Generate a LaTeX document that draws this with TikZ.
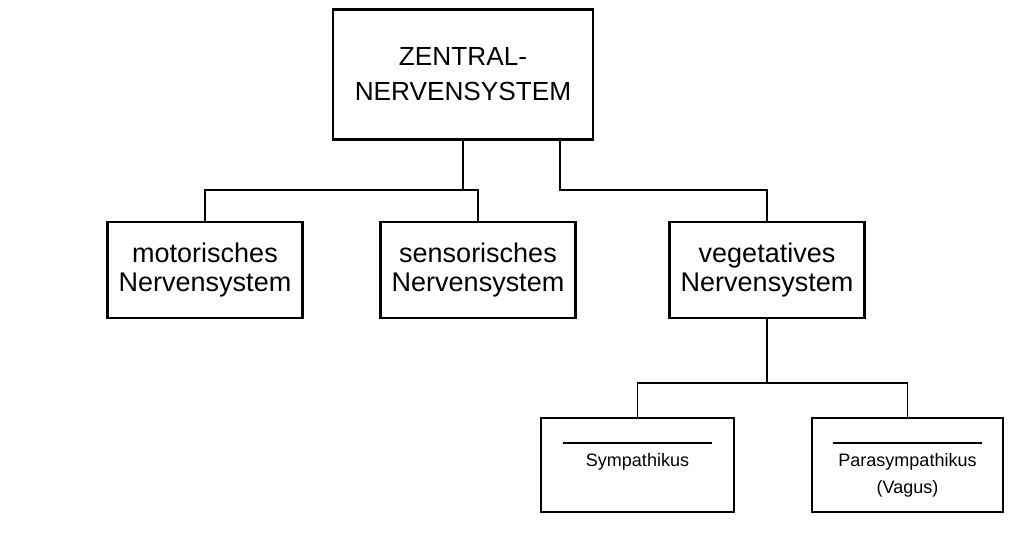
\documentclass[tikz,border=0pt]{standalone}
\usepackage{fontspec}
\setmainfont{Liberation Sans}
\begin{document}
\begin{tikzpicture}[x=.5pt,y=-.5pt,
	kasten/.style={draw,line width=1.1pt,inner sep=0pt,align=center},
	zbox/.style={kasten,minimum width=130pt,minimum height=65pt,font=\fontsize{13.1}{17.5}\selectfont},
	mbox/.style={kasten,minimum width=97.5pt,minimum height=48pt,font=\fontsize{13.5}{14.2}\selectfont},
	ubox/.style={kasten,minimum width=96.5pt,minimum height=47pt},
	utext/.style={inner sep=0pt,align=center,font=\fontsize{9}{13.3}\selectfont},
	ast/.style={line width=.9pt}]
	\useasboundingbox[fill=white] (0,0) rectangle (1024,532);
	\node[zbox] (zns) at (463,74.4) {ZENTRAL-\\NERVENSYSTEM};
	\foreach \n/\x/\t in {mot/205/motorisches, sen/478/sensorisches, veg/767/vegetatives}
		\node[mbox] (\n) at (\x,270) {\t\\Nervensystem};
	\node[ubox] (sym) at (637.5,465) {};
	\node[ubox,minimum width=95.5pt] (para) at (907.5,465) {};
	\node[utext] (symt) at ([yshift=1.45pt]sym.center) {Sympathikus};
	\node[utext] (parat) at ([yshift=-5.25pt]para.center) {Parasympathikus\\(Vagus)};
	\foreach \k in {sym,para}
		\draw[line width=1.1pt] (\k.north) ++(-74.5,26.3) -- ++(149,0);
	\path
	(0,190) coordinate (o1)
	(0,383.3) coordinate (o2)
	(560,0) coordinate (zr);
	\draw[ast] (zns.south) -- (zns.south |- o1)
	(mot.north) |- (o1 -| sen.north) -- (sen.north)
	(zns.south -| zr) |- (o1 -| veg.north) -- (veg.north)
	(veg.south) -- (veg.south |- o2)
	(sym.north) |- (o2 -| para.north) -- (para.north);
\end{tikzpicture}
\end{document}
